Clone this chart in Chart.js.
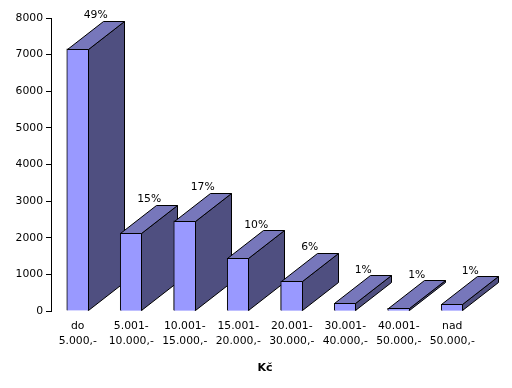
<!DOCTYPE html>
<html>
<head>
<meta charset="utf-8">
<script src="https://cdn.jsdelivr.net/npm/chart.js@4.4.1/dist/chart.umd.min.js"></script>
<style>
    body { margin: 0; background: #fff; }
    #wrap { width: 512px; height: 388px; }
</style>
</head>
<body>
<div id="wrap"><canvas id="chart" width="512" height="388"></canvas></div>
<script>
// Data
const categories = [
    ['do', '5.000,-'],
    ['5.001-', '10.000,-'],
    ['10.001-', '15.000,-'],
    ['15.001-', '20.000,-'],
    ['20.001-', '30.000,-'],
    ['30.001-', '40.000,-'],
    ['40.001-', '50.000,-'],
    ['nad', '50.000,-']
];
const counts = [7160, 2130, 2460, 1440, 820, 210, 75, 180];
const shares = ['49%', '15%', '17%', '10%', '6%', '1%', '1%', '1%'];
const yTicks = [0, 1000, 2000, 3000, 4000, 5000, 6000, 7000, 8000];
const axisTitle = 'Kč';

// 3D look
const DEPTH_X = 36;
const DEPTH_Y = -28;
const FRONT = '#9999FF';
const TOP = '#7777BB';
const SIDE = '#4F4F80';

Chart.defaults.font.family = "'DejaVu Sans', Verdana, sans-serif";
Chart.defaults.font.size = 10.8;
Chart.defaults.color = '#000';

function poly(ctx, pts, fill) {
    ctx.beginPath();
    ctx.moveTo(pts[0][0], pts[0][1]);
    for (let i = 1; i < pts.length; i++) ctx.lineTo(pts[i][0], pts[i][1]);
    ctx.closePath();
    ctx.fillStyle = fill;
    ctx.fill();
    ctx.stroke();
}

// draws top and side of each bar, then repaints the next front so it sits in front
const bars3d = {
    id: 'bars3d',
    afterDatasetsDraw(chart) {
        const ctx = chart.ctx;
        const meta = chart.getDatasetMeta(0);
        ctx.save();
        ctx.strokeStyle = '#000';
        ctx.lineWidth = 1;
        ctx.lineJoin = 'miter';
        meta.data.forEach((bar, i) => {
            const p = bar.getProps(['x', 'y', 'base', 'width'], true);
            const l = Math.round(p.x - p.width / 2) + 0.5;
            const r = Math.round(p.x + p.width / 2) - 0.5;
            const t = Math.round(p.y) + 0.5;
            const b = Math.round(p.base) - 0.5;
            poly(ctx, [[r, t], [r + DEPTH_X, t + DEPTH_Y], [r + DEPTH_X, b + DEPTH_Y], [r, b]], SIDE);
            poly(ctx, [[l, t], [l + DEPTH_X, t + DEPTH_Y], [r + DEPTH_X, t + DEPTH_Y], [r, t]], TOP);
            if (meta.data[i + 1]) meta.data[i + 1].draw(ctx);
        });
        ctx.fillStyle = '#000';
        ctx.font = "10.8px 'DejaVu Sans', Verdana, sans-serif";
        ctx.textAlign = 'center';
        ctx.textBaseline = 'alphabetic';
        meta.data.forEach((bar, i) => {
            const p = bar.getProps(['x', 'y'], true);
            ctx.fillText(shares[i], p.x + DEPTH_X / 2, p.y + DEPTH_Y - 2.5);
        });
        ctx.restore();
    }
};

new Chart(document.getElementById('chart'), {
    type: 'bar',
    data: {
        labels: categories,
        datasets: [{
            data: counts,
            backgroundColor: FRONT,
            borderColor: '#000',
            borderWidth: 1,
            barThickness: 22
        }]
    },
    options: {
        responsive: false,
        animation: false,
        layout: { padding: { top: 18, right: 33, left: 0, bottom: 0 } },
        plugins: {
            legend: { display: false },
            tooltip: { enabled: false }
        },
        scales: {
            x: {
                grid: { display: false, drawTicks: false },
                border: { display: false },
                ticks: { padding: 7, maxRotation: 0, autoSkip: false, font: { lineHeight: 1.45 } },
                title: {
                    display: true,
                    text: axisTitle,
                    font: { weight: 'bold', size: 11 },
                    padding: { top: 0, bottom: 13 }
                },
                afterFit(scale) { scale.height = 77; }
            },
            y: {
                min: 0,
                max: 8000,
                afterBuildTicks(scale) { scale.ticks = yTicks.map(v => ({ value: v })); },
                grid: { drawOnChartArea: false, drawTicks: true, tickLength: 5, color: '#000' },
                border: { display: true, color: '#000' },
                ticks: { padding: 3, callback: v => String(v) },
                afterFit(scale) { scale.width = 51; }
            }
        }
    },
    plugins: [bars3d]
});
</script>
</body>
</html>
